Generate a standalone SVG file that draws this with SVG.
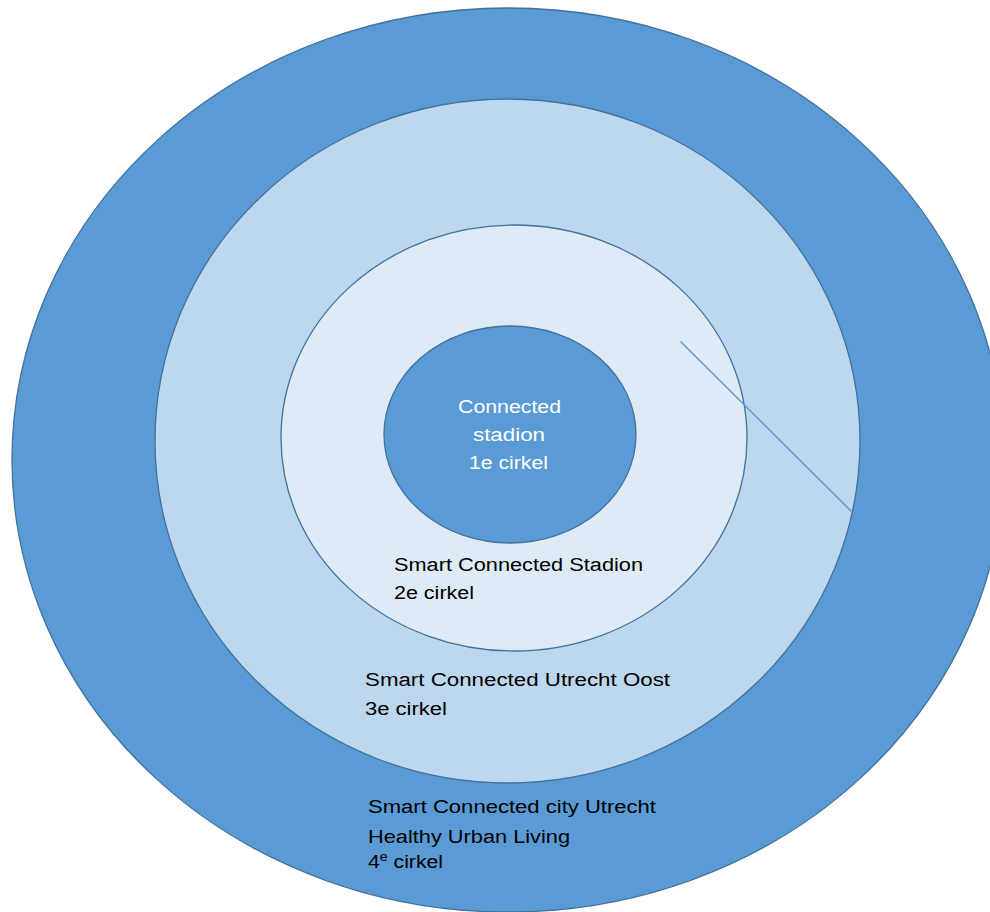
<svg xmlns="http://www.w3.org/2000/svg" width="990" height="912" viewBox="0 0 990 912">
<style>
.ring{stroke:#41719C;stroke-width:1.3}
.lbl{font-family:"Liberation Sans","Open Sans",Arial,sans-serif;font-size:18px;fill:#000}
.wl{font-family:"Liberation Sans","Open Sans",Arial,sans-serif;font-size:18px;fill:#fff}
</style>
<rect width="990" height="912" fill="#fff"/>
<g id="circle4">
<ellipse class="ring" cx="508" cy="460" rx="496" ry="452" fill="#5B9BD5"/>
</g>
<g id="circle3">
<ellipse class="ring" cx="507.5" cy="441" rx="352.5" ry="342" fill="#BDD7EE"/>
</g>
<g id="circle2">
<ellipse class="ring" cx="514" cy="438" rx="233" ry="213" fill="#DEEBF7"/>
</g>
<g id="circle1">
<ellipse class="ring" cx="510" cy="434.5" rx="126" ry="108.5" fill="#5B9BD5"/>
<text class="wl" x="458" y="413" textLength="103" lengthAdjust="spacingAndGlyphs">Connected</text>
<text class="wl" x="473" y="441" textLength="72" lengthAdjust="spacingAndGlyphs">stadion</text>
<text class="wl" x="469" y="469" textLength="79" lengthAdjust="spacingAndGlyphs">1e cirkel</text>
</g>
<g id="connectors">
<line x1="680.5" y1="341.5" x2="851.5" y2="511.5" stroke="#5B9BD5" stroke-width="1.5"/>
</g>
<g id="label2">
<text class="lbl" x="394" y="571" textLength="249" lengthAdjust="spacingAndGlyphs">Smart  Connected Stadion</text>
<text class="lbl" x="394" y="599" textLength="80" lengthAdjust="spacingAndGlyphs">2e cirkel</text>
</g>
<g id="label3">
<text class="lbl" x="365" y="686" textLength="305" lengthAdjust="spacingAndGlyphs">Smart  Connected Utrecht Oost</text>
<text class="lbl" x="365" y="715" textLength="82" lengthAdjust="spacingAndGlyphs">3e cirkel</text>
</g>
<g id="label4">
<text class="lbl" x="368" y="813" textLength="288" lengthAdjust="spacingAndGlyphs">Smart  Connected city Utrecht</text>
<text class="lbl" x="368" y="843" textLength="202" lengthAdjust="spacingAndGlyphs">Healthy Urban Living</text>
<text class="lbl" x="368" y="868" textLength="75" lengthAdjust="spacingAndGlyphs">4<tspan font-size="12" dy="-7">e</tspan><tspan dy="7"> cirkel</tspan></text>
</g>
</svg>
